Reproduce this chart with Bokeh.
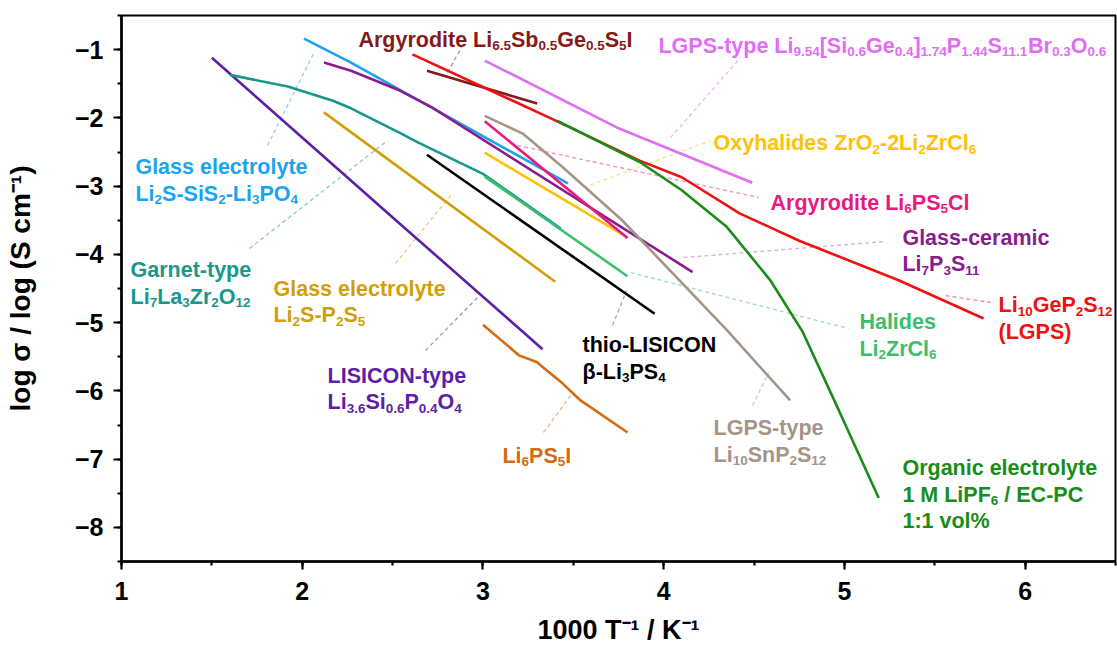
from bokeh.plotting import figure
from bokeh.models import Range1d, SingleIntervalTicker, ColumnDataSource
from bokeh.core.properties import value
from bokeh.embed import file_html
from bokeh.resources import INLINE

# ---------------- data (1000/T in K^-1, log sigma) ----------------
lisicon_x = [1.50, 2.54, 3.33]
lisicon_y = [-1.12, -3.55, -5.39]
garnet_x = [1.60, 1.92, 2.17, 2.27, 2.54, 2.64, 3.00, 3.43]
garnet_y = [-1.37, -1.54, -1.75, -1.86, -2.22, -2.36, -2.82, -3.62]
glass_si_x = [2.01, 2.27, 3.47]
glass_si_y = [-0.84, -1.19, -2.96]
glass_p_x = [2.12, 3.40]
glass_p_y = [-1.92, -4.40]
ceramic_x = [2.12, 2.27, 2.54, 2.72, 4.16]
ceramic_y = [-1.19, -1.31, -1.60, -1.85, -4.26]
thio_x = [2.69, 3.95]
thio_y = [-2.54, -4.87]
halide_x = [3.01, 3.80]
halide_y = [-2.86, -4.32]
oxy_x = [3.01, 3.80]
oxy_y = [-2.51, -3.75]
argcl_x = [3.01, 3.80]
argcl_y = [-2.05, -3.76]
sn_x = [3.01, 3.22, 3.44, 3.77, 4.35, 4.70]
sn_y = [-1.97, -2.23, -2.72, -3.50, -5.11, -6.14]
organic_x = [3.41, 3.87, 4.10, 4.35, 4.59, 4.77, 4.97, 5.19]
organic_y = [-2.04, -2.65, -3.06, -3.60, -4.38, -5.14, -6.29, -7.57]
lgps_x = [2.61, 3.37, 3.87, 4.10, 4.42, 4.75, 5.30, 5.77]
lgps_y = [-1.07, -2.00, -2.63, -2.87, -3.40, -3.80, -4.38, -4.94]
sb_x = [2.69, 3.30]
sb_y = [-1.31, -1.79]
lgpsbr_x = [3.01, 3.74, 4.49]
lgpsbr_y = [-1.16, -2.14, -2.95]
psi_x = [3.00, 3.20, 3.30, 3.33, 3.44, 3.54, 3.80]
psi_y = [-5.03, -5.48, -5.58, -5.65, -5.89, -6.14, -6.61]

series_x = [lisicon_x, garnet_x, glass_si_x, ceramic_x, glass_p_x, thio_x, halide_x,
            oxy_x, argcl_x, sn_x, lgpsbr_x, sb_x, lgps_x, organic_x, psi_x]
series_y = [lisicon_y, garnet_y, glass_si_y, ceramic_y, glass_p_y, thio_y, halide_y,
            oxy_y, argcl_y, sn_y, lgpsbr_y, sb_y, lgps_y, organic_y, psi_y]
series_color = ["#5C1FA6", "#17988F", "#1CA3EF", "#8A1C8C", "#D19E0A", "#000000", "#3CBF6C",
                "#FFC107", "#E8197F", "#A69485", "#E06EF5", "#841A1A", "#EE1111", "#1A8C1A", "#D66A12"]

# labels: lines (with _{..} subscripts), left x, first baseline y, colour
label_lines = [
    ["Glass electrolyte", "Li_{2}S-SiS_{2}-Li_{3}PO_{4}"],
    ["Garnet-type", "Li_{7}La_{3}Zr_{2}O_{12}"],
    ["Glass electrolyte", "Li_{2}S-P_{2}S_{5}"],
    ["LISICON-type", "Li_{3.6}Si_{0.6}P_{0.4}O_{4}"],
    ["Li_{6}PS_{5}I"],
    ["thio-LISICON", "β-Li_{3}PS_{4}"],
    ["LGPS-type", "Li_{10}SnP_{2}S_{12}"],
    ["Organic electrolyte", "1 M LiPF_{6} / EC-PC", "1:1 vol%"],
    ["Halides", "Li_{2}ZrCl_{6}"],
    ["Li_{10}GeP_{2}S_{12}", "(LGPS)"],
    ["Glass-ceramic", "Li_{7}P_{3}S_{11}"],
    ["Argyrodite Li_{6}PS_{5}Cl"],
    ["Oxyhalides ZrO_{2}-2Li_{2}ZrCl_{6}"],
    ["Argyrodite Li_{6.5}Sb_{0.5}Ge_{0.5}S_{5}I"],
    ["LGPS-type Li_{9.54}[Si_{0.6}Ge_{0.4}]_{1.74}P_{1.44}S_{11.1}Br_{0.3}O_{0.6}"],
]
label_x = [1.077, 1.050, 1.841, 2.140, 3.108, 3.551, 4.276, 5.321, 5.083, 5.853,
           5.321, 4.591, 4.276, 2.311, 3.971]
label_y = [-2.727, -4.236, -4.500, -5.775, -6.947, -5.335, -6.551, -7.137, -4.998, -4.749,
           -3.753, -3.240, -2.375, -0.852, -0.940]
label_color = ["#1CA3EF", "#17988F", "#D19E0A", "#5C1FA6", "#D66A12", "#000000", "#A69485",
               "#1A8C1A", "#3CBF6C", "#EE1111", "#8A1C8C", "#E8197F", "#FFC107", "#841A1A", "#E06EF5"]

# leader (dashed) lines: x0, y0, x1, y1
leader_x0 = [1.808, 1.708, 2.516, 2.682, 3.335, 3.717, 4.492, 3.817, 5.560, 4.110, 3.191, 3.557, 2.804, 4.038]
leader_y0 = [-2.405, -3.914, -4.134, -5.408, -6.610, -5.042, -6.214, -4.266, -4.603, -4.046, -2.405, -3.020, -1.335, -2.288]
leader_x1 = [2.063, 2.472, 2.821, 2.976, 3.485, 3.795, 4.581, 5.023, 5.809, 5.228, 4.525, 4.260, 2.893, 4.426]
leader_y1 = [-1.057, -2.331, -3.137, -4.617, -6.068, -4.529, -5.731, -5.086, -4.705, -3.811, -3.167, -2.332, -0.910, -1.115]
leader_color = ["#1CA3EF", "#17988F", "#D19E0A", "#5C1FA6", "#D66A12", "#555555", "#A69485",
                "#3CBF6C", "#EE1111", "#B060C0", "#E8197F", "#FFC107", "#841A1A", "#E06EF5"]

# ---------------- layout ----------------
X0, X1, Y0, Y1 = 1.0, 6.5, -8.5, -0.5
FW, FH = 994, 546
BL, BR, BT, BB = 121, 2, 15, 86
PXY = FH / (Y1 - Y0)

FONT = "Liberation Sans"
MAIN = 21.5
SUB = 13.5
SUB_DROP = 6.0
LINE_GAP = 26.5

W = {' ': 278, '-': 333, '.': 278, '[': 333, ']': 333, '(': 333, ')': 333, '/': 278, ':': 333,
     '%': 889, 'β': 611,
     'A': 722, 'B': 722, 'C': 722, 'D': 722, 'E': 667, 'F': 611, 'G': 778, 'H': 722, 'I': 278,
     'K': 722, 'L': 611, 'M': 833, 'N': 722, 'O': 778, 'P': 667, 'S': 667, 'T': 611, 'Z': 611,
     'a': 556, 'b': 611, 'c': 556, 'd': 611, 'e': 556, 'g': 611, 'h': 611, 'i': 278, 'l': 278,
     'm': 889, 'n': 611, 'o': 611, 'p': 611, 'r': 389, 's': 556, 't': 333, 'v': 556, 'y': 556,
     'u': 611, 'k': 556, 'f': 333}


def tw(s, size):
    return sum(W.get(c, 556) for c in s) * size / 1000.0


def parse(s):
    segs, buf, i = [], "", 0
    while i < len(s):
        if s.startswith("_{", i):
            if buf:
                segs.append((buf, False))
                buf = ""
            j = s.index("}", i)
            segs.append((s[i + 2:j], True))
            i = j + 1
        else:
            buf += s[i]
            i += 1
    if buf:
        segs.append((buf, False))
    return segs


main = dict(x=[], y=[], xo=[], text=[], color=[])
sub = dict(x=[], y=[], xo=[], text=[], color=[])
for lines, lx, ly, col in zip(label_lines, label_x, label_y, label_color):
    for k, line in enumerate(lines):
        base = ly - k * LINE_GAP / PXY
        off = 0.0
        for txt, is_sub in parse(line):
            size = SUB if is_sub else MAIN
            stripped = txt.lstrip(" ")
            off += tw(txt[:len(txt) - len(stripped)], size)
            d = sub if is_sub else main
            d["x"].append(lx)
            d["y"].append(base - (SUB_DROP / PXY if is_sub else 0))
            d["xo"].append(off)
            d["text"].append(stripped)
            d["color"].append(col)
            off += tw(stripped, size)

p = figure(frame_width=FW, frame_height=FH, x_range=Range1d(X0, X1), y_range=Range1d(Y0, Y1),
           output_backend="svg", toolbar_location=None,
           min_border_left=BL, min_border_right=BR, min_border_top=BT, min_border_bottom=BB)
p.grid.visible = False
p.outline_line_color = "black"
p.outline_line_width = 2
p.outline_line_alpha = 1

# leaders
p.segment(x0=leader_x0, y0=leader_y0, x1=leader_x1, y1=leader_y1, line_color=leader_color,
          line_dash="4 3", line_width=1.3, line_alpha=0.5)

for xs, ys, c in zip(series_x, series_y, series_color):
    p.line(xs, ys, line_color=c, line_width=2.6)

p.text(x="x", y="y", x_offset="xo", text="text", text_color="color", source=ColumnDataSource(main),
       text_font=value(FONT), text_font_style="bold", text_font_size=f"{MAIN}px",
       text_align="left", text_baseline="alphabetic")
p.text(x="x", y="y", x_offset="xo", text="text", text_color="color", source=ColumnDataSource(sub),
       text_font=value(FONT), text_font_style="bold", text_font_size=f"{SUB}px",
       text_align="left", text_baseline="alphabetic")

p.xaxis.ticker = SingleIntervalTicker(interval=1, num_minor_ticks=2)
p.yaxis.ticker = SingleIntervalTicker(interval=1, num_minor_ticks=2)
p.yaxis.major_label_overrides = {float(v): "\u2212%d" % (-v) for v in range(-8, 0)}
for ax in (p.xaxis, p.yaxis):
    ax.axis_line_width = 2.5
    ax.major_tick_line_width = 2.2
    ax.minor_tick_line_width = 2.2
    ax.major_tick_out = 8
    ax.major_tick_in = 0
    ax.minor_tick_out = 4
    ax.minor_tick_in = 0
    ax.major_label_text_font = FONT
    ax.major_label_text_font_style = "bold"
    ax.major_label_text_font_size = "25px"
    ax.major_label_text_color = "black"
    ax.axis_label_text_font = FONT
    ax.axis_label_text_font_style = "bold"
    ax.axis_label_text_color = "black"
p.xaxis.axis_label_text_font_size = "27px"
p.yaxis.axis_label_text_font_size = "28px"
p.xaxis.major_label_standoff = 12
p.yaxis.major_label_standoff = 10
p.xaxis.axis_label_standoff = 12
p.yaxis.axis_label_standoff = 36
p.xaxis.axis_label = "1000 T\u207b\u00b9 / K\u207b\u00b9"
p.yaxis.axis_label = "log \u03c3 / log (S cm\u207b\u00b9)"

open("out.html", "w").write(file_html(p, INLINE))
